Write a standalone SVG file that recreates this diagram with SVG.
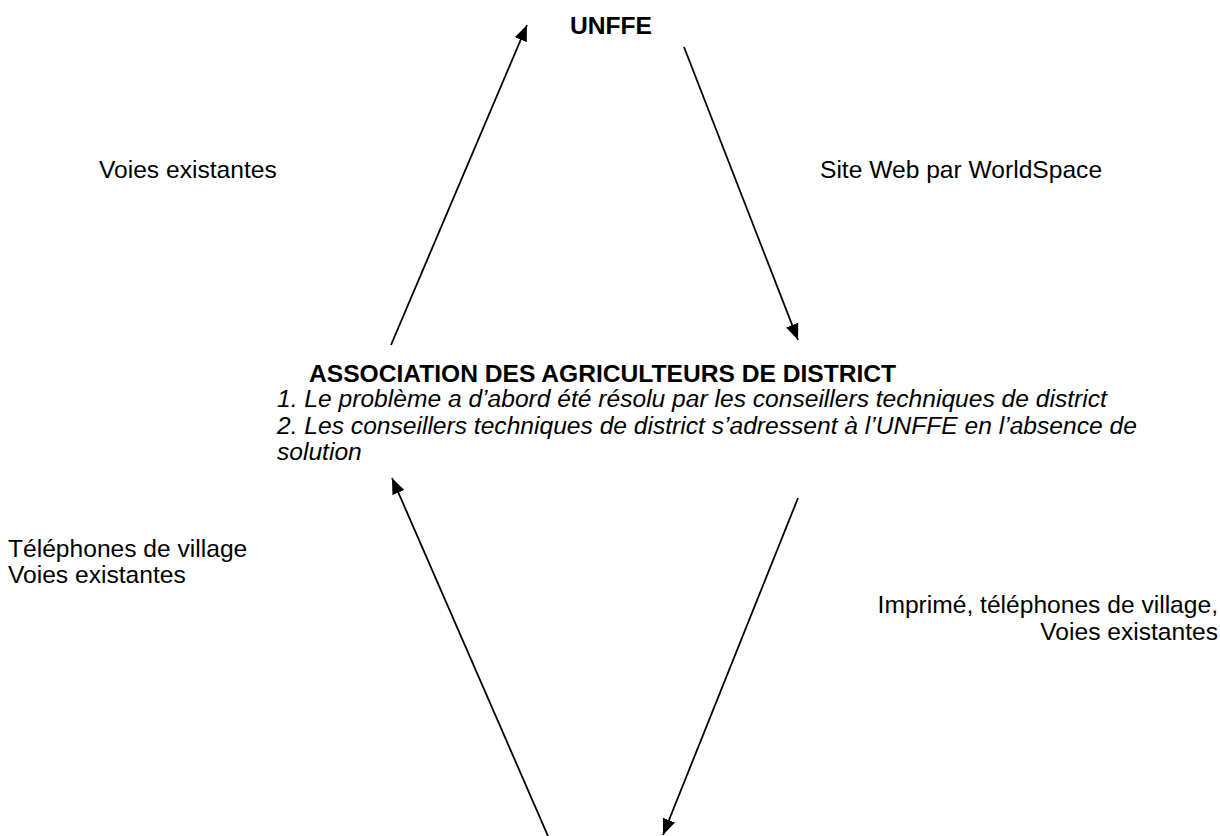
<svg xmlns="http://www.w3.org/2000/svg" width="1220" height="836" viewBox="0 0 1220 836">
<style>
text{font-family:"Liberation Sans",Arial,sans-serif;font-size:24.6px;fill:#000}
.b{font-weight:bold}
.i{font-style:italic}
.e{text-anchor:end}
.c{stroke:#000;stroke-width:1.8;fill:none;marker-end:url(#ah)}
</style>
<defs>
<marker id="ah" markerUnits="userSpaceOnUse" markerWidth="18" markerHeight="14" refX="16" refY="6.5" orient="auto">
<path d="M0,0 L16,6.5 L0,13 z" fill="#000"/>
</marker>
</defs>
<rect width="1220" height="836" fill="#fff"/>
<g id="connectors">
<line class="c" x1="391" y1="345" x2="527" y2="25"/>
<line class="c" x1="684" y1="47" x2="798" y2="340"/>
<line class="c" x1="548" y1="836" x2="392" y2="478"/>
<line class="c" x1="798" y1="498" x2="663" y2="835"/>
</g>
<g id="node-unffe"><text class="b" x="570" y="34">UNFFE</text></g>
<g id="node-association">
<text class="b" x="309" y="382">ASSOCIATION DES AGRICULTEURS DE DISTRICT</text>
<text class="i" x="277" y="407">1. Le problème a d’abord été résolu par les conseillers techniques de district</text>
<text class="i" x="277" y="434">2. Les conseillers techniques de district s’adressent à l’UNFFE en l’absence de</text>
<text class="i" x="277" y="460">solution</text>
</g>
<g id="labels">
<text x="99" y="178">Voies existantes</text>
<text x="820" y="178">Site Web par WorldSpace</text>
<text x="8" y="557">Téléphones de village</text>
<text x="8" y="583">Voies existantes</text>
<text class="e" x="1218" y="613">Imprimé, téléphones de village,</text>
<text class="e" x="1218" y="640">Voies existantes</text>
</g>
</svg>
